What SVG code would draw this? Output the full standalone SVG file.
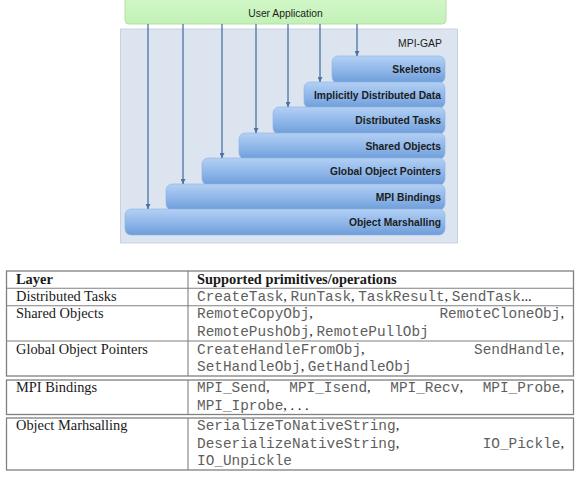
<svg xmlns="http://www.w3.org/2000/svg" width="588" height="486" viewBox="0 0 588 486">
<style>
.bar{fill:url(#blue);stroke:#8fb3e0;stroke-width:0.6}
.bl{font-family:"Liberation Sans",Arial,sans-serif;font-weight:bold;font-size:10.3px;fill:#1c1c1c;text-anchor:end}
.conn{stroke:#4d70a6;stroke-width:1.3;fill:none;marker-end:url(#ah)}
.tm{font-family:"Liberation Serif","Times New Roman",serif;font-size:14.4px;fill:#1a1a1a}
.tb{font-family:"Liberation Serif","Times New Roman",serif;font-size:14.4px;font-weight:bold;fill:#1a1a1a}
.mo{font-family:"Liberation Mono","Courier New",monospace;font-size:14.4px;fill:#5e5e5e}
.tl{fill:#fff;stroke:#808080;stroke-width:1.3}
.ln{stroke:#808080;stroke-width:1.1}
</style>
<defs>
<linearGradient id="blue" x1="0" y1="0" x2="0" y2="1">
<stop offset="0" stop-color="#b3d0f3"/>
<stop offset="0.5" stop-color="#91b8ea"/>
<stop offset="1" stop-color="#6e9dd9"/>
</linearGradient>
<linearGradient id="green" x1="0" y1="0" x2="0" y2="1">
<stop offset="0" stop-color="#d3f8ca"/>
<stop offset="1" stop-color="#c2f1b6"/>
</linearGradient>
<marker id="ah" viewBox="0 0 10 10" refX="10" refY="5" markerWidth="5" markerHeight="5" orient="auto" markerUnits="userSpaceOnUse">
<path d="M0,0 L10,5 L0,10 z" fill="#4d70a6"/>
</marker>
</defs>
<g id="mpi-gap">
<rect x="120.5" y="29" width="337" height="214" fill="#dce4ef" stroke="#c9d3e0" stroke-width="1"/>
<text x="442" y="47" font-family="Liberation Sans,Arial,sans-serif" font-size="10.4" fill="#1c1c1c" text-anchor="end">MPI-GAP</text>
</g>
<g id="user-application">
<rect x="125" y="-4" width="321" height="28" rx="4" fill="url(#green)" stroke="#b2e0a6" stroke-width="1"/>
<text x="285.5" y="16.5" font-family="Liberation Sans,Arial,sans-serif" font-size="10.3" fill="#1c1c1c" text-anchor="middle">User Application</text>
</g>
<g id="skeletons"><rect class="bar" x="332" y="56" width="113" height="27" rx="6"/><text class="bl" x="441" y="73">Skeletons</text></g>
<g id="implicitly-distributed-data"><rect class="bar" x="304" y="82" width="141" height="26" rx="6"/><text class="bl" x="441" y="98.5">Implicitly Distributed Data</text></g>
<g id="distributed-tasks"><rect class="bar" x="273" y="107" width="172" height="27" rx="6"/><text class="bl" x="441" y="124">Distributed Tasks</text></g>
<g id="shared-objects"><rect class="bar" x="239" y="133" width="206" height="26" rx="6"/><text class="bl" x="441" y="149.5">Shared Objects</text></g>
<g id="global-object-pointers"><rect class="bar" x="202" y="158" width="243" height="27" rx="6"/><text class="bl" x="441" y="175">Global Object Pointers</text></g>
<g id="mpi-bindings"><rect class="bar" x="166" y="184" width="279" height="26" rx="6"/><text class="bl" x="441" y="200.5">MPI Bindings</text></g>
<g id="object-marshalling"><rect class="bar" x="125" y="209" width="320" height="26" rx="6"/><text class="bl" x="441" y="226">Object Marshalling</text></g>
<g id="connectors">
<line class="conn" x1="357" y1="24" x2="357" y2="56"/>
<line class="conn" x1="320" y1="24" x2="320" y2="82"/>
<line class="conn" x1="288" y1="24" x2="288" y2="107"/>
<line class="conn" x1="256" y1="24" x2="256" y2="133"/>
<line class="conn" x1="222" y1="24" x2="222" y2="158"/>
<line class="conn" x1="183" y1="24" x2="183" y2="184"/>
<line class="conn" x1="148" y1="24" x2="148" y2="209"/>
</g>
<g id="table">
<rect class="tl" x="6.5" y="271" width="567" height="105"/>
<line class="ln" x1="188" y1="271" x2="188" y2="376"/>
<line class="ln" x1="6.5" y1="288.3" x2="573.5" y2="288.3"/>
<line class="ln" x1="6.5" y1="305.7" x2="573.5" y2="305.7"/>
<line class="ln" x1="6.5" y1="341" x2="573.5" y2="341"/>
<rect class="tl" x="6.5" y="380" width="567" height="34.5"/>
<line class="ln" x1="188" y1="380" x2="188" y2="414.5"/>
<rect class="tl" x="6.5" y="418" width="567" height="52"/>
<line class="ln" x1="188" y1="418" x2="188" y2="470"/>

<text class="tb" x="16" y="283.5">Layer</text>
<text class="tb" x="197" y="283.5">Supported primitives/operations</text>

<text class="tm" x="16" y="300.8">Distributed Tasks</text>
<text x="197" y="300.8"><tspan class="mo">CreateTask</tspan><tspan class="tm">, </tspan><tspan class="mo">RunTask</tspan><tspan class="tm">, </tspan><tspan class="mo">TaskResult</tspan><tspan class="tm">, </tspan><tspan class="mo">SendTask</tspan><tspan class="tm">...</tspan></text>

<text class="tm" x="16" y="318.2">Shared Objects</text>
<text x="197" y="318.2"><tspan class="mo">RemoteCopyObj</tspan><tspan class="tm">,</tspan></text>
<text x="564" y="318.2" text-anchor="end"><tspan class="mo">RemoteCloneObj</tspan><tspan class="tm">,</tspan></text>
<text x="197" y="335.5"><tspan class="mo">RemotePushObj</tspan><tspan class="tm">, </tspan><tspan class="mo">RemotePullObj</tspan></text>

<text class="tm" x="16" y="353.5">Global Object Pointers</text>
<text x="197" y="353.5"><tspan class="mo">CreateHandleFromObj</tspan><tspan class="tm">,</tspan></text>
<text x="564" y="353.5" text-anchor="end"><tspan class="mo">SendHandle</tspan><tspan class="tm">,</tspan></text>
<text x="197" y="370.8"><tspan class="mo">SetHandleObj</tspan><tspan class="tm">, </tspan><tspan class="mo">GetHandleObj</tspan></text>

<text class="tm" x="16" y="392.3">MPI Bindings</text>
<text x="197" y="392.3"><tspan class="mo">MPI_Send</tspan><tspan class="tm">,</tspan></text>
<text x="289.3" y="392.3"><tspan class="mo">MPI_Isend</tspan><tspan class="tm">,</tspan></text>
<text x="390.3" y="392.3"><tspan class="mo">MPI_Recv</tspan><tspan class="tm">,</tspan></text>
<text x="564" y="392.3" text-anchor="end"><tspan class="mo">MPI_Probe</tspan><tspan class="tm">,</tspan></text>
<text x="197" y="409.6"><tspan class="mo">MPI_Iprobe</tspan><tspan class="tm">, . . .</tspan></text>

<text class="tm" x="16" y="430.3">Object Marhsalling</text>
<text x="197" y="430.3"><tspan class="mo">SerializeToNativeString</tspan><tspan class="tm">,</tspan></text>
<text x="197" y="447.6"><tspan class="mo">DeserializeNativeString</tspan><tspan class="tm">,</tspan></text>
<text x="564" y="447.6" text-anchor="end"><tspan class="mo">IO_Pickle</tspan><tspan class="tm">,</tspan></text>
<text x="197" y="464.9"><tspan class="mo">IO_Unpickle</tspan></text>
</g>
</svg>
